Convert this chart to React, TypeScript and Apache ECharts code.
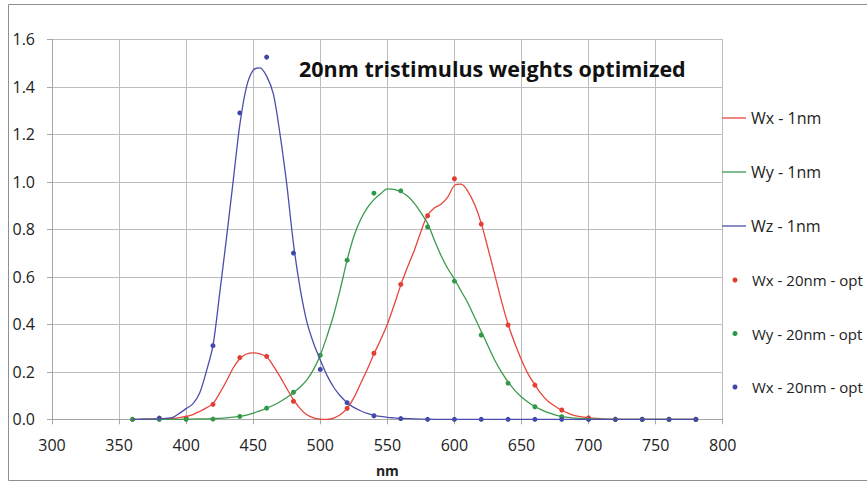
import React, { useEffect, useRef } from "react";
import * as echarts from "echarts";

// 1nm curves sampled every 5 nm from 360 to 780
const nm5: number[] = [
  360, 365, 370, 375, 380, 385, 390, 395, 400, 405, 410, 415, 420, 425, 430, 435, 440, 445, 450, 455,
  460, 465, 470, 475, 480, 485, 490, 495, 500, 505, 510, 515, 520, 525, 530, 535, 540, 545, 550, 555,
  560, 565, 570, 575, 580, 585, 590, 595, 600, 605, 610, 615, 620, 625, 630, 635, 640, 645, 650, 655,
  660, 665, 670, 675, 680, 685, 690, 695, 700, 705, 710, 715, 720, 725, 730, 735, 740, 745, 750, 755,
  760, 765, 770, 775, 780,
];

const wx1nm: number[] = [
  0, 0, 0.001, 0.001, 0.002, 0.003, 0.004, 0.007, 0.012, 0.02, 0.033, 0.048, 0.066, 0.11, 0.16, 0.215, 0.255, 0.275, 0.28, 0.275,
  0.263, 0.225, 0.18, 0.13, 0.083, 0.045, 0.019, 0.006, 0.001, 0, 0.005, 0.02, 0.046, 0.09, 0.15, 0.21, 0.275, 0.335, 0.4, 0.48,
  0.565, 0.64, 0.71, 0.79, 0.86, 0.89, 0.905, 0.935, 0.985, 0.99, 0.96, 0.905, 0.825, 0.72, 0.61, 0.5, 0.4, 0.32, 0.25, 0.19,
  0.145, 0.105, 0.075, 0.055, 0.038, 0.025, 0.015, 0.01, 0.006, 0.004, 0.002, 0.001, 0.001, 0, 0, 0, 0, 0, 0, 0,
  0, 0, 0, 0, 0,
];

const wy1nm: number[] = [
  0, 0, 0, 0, 0, 0, 0, 0, 0.001, 0.001, 0.002, 0.002, 0.003, 0.004, 0.006, 0.009, 0.012, 0.018, 0.026, 0.035,
  0.046, 0.059, 0.074, 0.092, 0.112, 0.136, 0.166, 0.21, 0.27, 0.35, 0.44, 0.55, 0.67, 0.77, 0.84, 0.89, 0.925, 0.95, 0.97, 0.968,
  0.958, 0.94, 0.91, 0.87, 0.825, 0.755, 0.69, 0.635, 0.59, 0.54, 0.49, 0.43, 0.37, 0.31, 0.25, 0.2, 0.158, 0.122, 0.094, 0.072,
  0.054, 0.04, 0.028, 0.019, 0.012, 0.008, 0.005, 0.003, 0.002, 0.001, 0.001, 0, 0, 0, 0, 0, 0, 0, 0, 0,
  0, 0, 0, 0, 0,
];

const wz1nm: number[] = [
  0, 0, 0.001, 0.001, 0.002, 0.004, 0.008, 0.025, 0.045, 0.065, 0.11, 0.2, 0.31, 0.53, 0.76, 1.0, 1.24, 1.4, 1.47, 1.48,
  1.445, 1.37, 1.2, 0.99, 0.74, 0.55, 0.41, 0.32, 0.25, 0.185, 0.135, 0.098, 0.07, 0.05, 0.036, 0.025, 0.017, 0.012, 0.008, 0.006,
  0.004, 0.003, 0.002, 0.001, 0.001, 0, 0, 0, 0, 0, 0, 0, 0, 0, 0, 0, 0, 0, 0, 0,
  0, 0, 0, 0, 0, 0, 0, 0, 0, 0, 0, 0, 0, 0, 0, 0, 0, 0, 0, 0,
  0, 0, 0, 0, 0,
];

// 20nm optimized weights
const nm20: number[] = [
  360, 380, 400, 420, 440, 460, 480, 500, 520, 540, 560, 580, 600, 620, 640, 660, 680, 700, 720, 740, 760, 780,
];
const wx20nm: (number | null)[] = [
  0, 0.002, 0.005, 0.063, 0.26, 0.265, 0.076, null, 0.046, 0.278, 0.568, 0.857, 1.013, 0.822, 0.397, 0.144, 0.039, 0.006, 0, 0, 0, 0,
];
const wy20nm: (number | null)[] = [
  0, 0, 0, 0.001, 0.012, 0.047, 0.114, 0.27, 0.67, 0.952, 0.962, 0.81, 0.582, 0.355, 0.152, 0.053, 0.011, 0.001, 0, 0, 0, 0,
];
const wz20nm: (number | null)[] = [
  null, 0.005, null, 0.31, 1.29, 1.525, 0.7, 0.21, 0.07, 0.015, 0.003, 0, 0, 0, 0, 0, 0, 0, 0, 0, 0, 0,
];

const seriesNames = [
  "Wx - 1nm",
  "Wy - 1nm",
  "Wz - 1nm",
  "Wx - 20nm - opt",
  "Wy - 20nm - opt",
  "Wx - 20nm - opt ",
];
const titleText = "20nm tristimulus weights optimized";
const xAxisName = "nm";

const RED = "#e8453c";
const GREEN = "#3b9a4c";
const BLUE = "#4b4fab";
const DOT_RED = "#e33a2e";
const DOT_GREEN = "#2b9a47";
const DOT_BLUE = "#3c47a6";
const FONT = "'Open Sans', sans-serif";

function pairs(xs: number[], ys: (number | null)[]) {
  return xs.map((x, i) => [x, ys[i]]).filter((p) => p[1] !== null);
}

export default function App() {
  const ref = useRef<HTMLDivElement>(null);
  useEffect(() => {
    if (!ref.current) return;
    const chart = echarts.init(ref.current, undefined, { renderer: "svg" });
    const lineSeries = (name: string, ys: number[], color: string) => ({
      name,
      type: "line",
      data: pairs(nm5, ys),
      smooth: 0.3,
      symbol: "none",
      showSymbol: false,
      lineStyle: { color, width: 1.3 },
      itemStyle: { color },
    });
    const dotSeries = (name: string, ys: (number | null)[], color: string) => ({
      name,
      type: "scatter",
      data: pairs(nm20, ys),
      symbol: "circle",
      symbolSize: 5,
      itemStyle: { color, opacity: 1 },
    });
    const rowY = [119, 173, 227, 281, 334.5, 388];
    const legends = seriesNames.map((n, i) => ({
      show: true,
      data: [{ name: n, icon: i < 3 ? "rect" : "circle" }],
      left: i < 3 ? 722 : 732.5,
      top: rowY[i] - (i < 3 ? 9 : 8.5),
      orient: "vertical",
      itemWidth: 24,
      itemHeight: i < 3 ? 1.3 : 5,
      selectedMode: false,
      formatter: (name: string) => name.trim(),
      textStyle: { fontFamily: FONT, fontSize: i < 3 ? 16 : 15, color: "#222" },
      padding: 0,
    }));
    chart.setOption({
      animation: false,
      backgroundColor: "#ffffff",
      title: {
        text: titleText,
        left: 299,
        top: 57,
        padding: 0,
        textStyle: { fontFamily: FONT, fontWeight: "bold", fontSize: 21.5, color: "#111" },
      },
      legend: legends,
      grid: {
        left: 52,
        top: 39.3,
        right: 144.3,
        bottom: 62.7,
        containLabel: false,
        outerBoundsMode: "none",
      },
      xAxis: {
        type: "value",
        min: 300,
        max: 800,
        interval: 50,
        name: xAxisName,
        nameLocation: "middle",
        nameGap: 44,
        nameTextStyle: { fontFamily: FONT, fontWeight: "bold", fontSize: 14, color: "#222" },
        axisLine: { show: true, lineStyle: { color: "#a6a6a6", width: 1 } },
        axisTick: { show: true, length: 5, lineStyle: { color: "#a6a6a6" } },
        splitLine: { show: true, lineStyle: { color: "#bdbdbd", width: 1 } },
        axisLabel: { fontFamily: FONT, fontSize: 16, color: "#222", margin: 18 },
      },
      yAxis: {
        type: "value",
        min: 0,
        max: 1.6,
        interval: 0.2,
        axisLine: { show: true, lineStyle: { color: "#a6a6a6", width: 1 } },
        axisTick: { show: true, length: 5, lineStyle: { color: "#a6a6a6" } },
        splitLine: { show: true, lineStyle: { color: "#bdbdbd", width: 1 } },
        axisLabel: {
          fontFamily: FONT,
          fontSize: 16,
          color: "#222",
          margin: 17,
          formatter: (v: number) => v.toFixed(1),
        },
      },
      graphic: [
        {
          type: "rect",
          silent: true,
          shape: { x: 8.5, y: 4.5, width: 900, height: 476 },
          style: { fill: "none", stroke: "#8f8f8f", lineWidth: 1 },
          z: -10,
        },
      ],
      series: [
        lineSeries(seriesNames[0], wx1nm, RED),
        lineSeries(seriesNames[1], wy1nm, GREEN),
        lineSeries(seriesNames[2], wz1nm, BLUE),
        dotSeries(seriesNames[3], wx20nm, DOT_RED),
        dotSeries(seriesNames[4], wy20nm, DOT_GREEN),
        dotSeries(seriesNames[5], wz20nm, DOT_BLUE),
      ],
    });
    return () => chart.dispose();
  }, []);
  return (
    <div
      ref={ref}
      style={{ position: "fixed", left: 0, top: 0, width: 867, height: 482, background: "#fff" }}
    />
  );
}
